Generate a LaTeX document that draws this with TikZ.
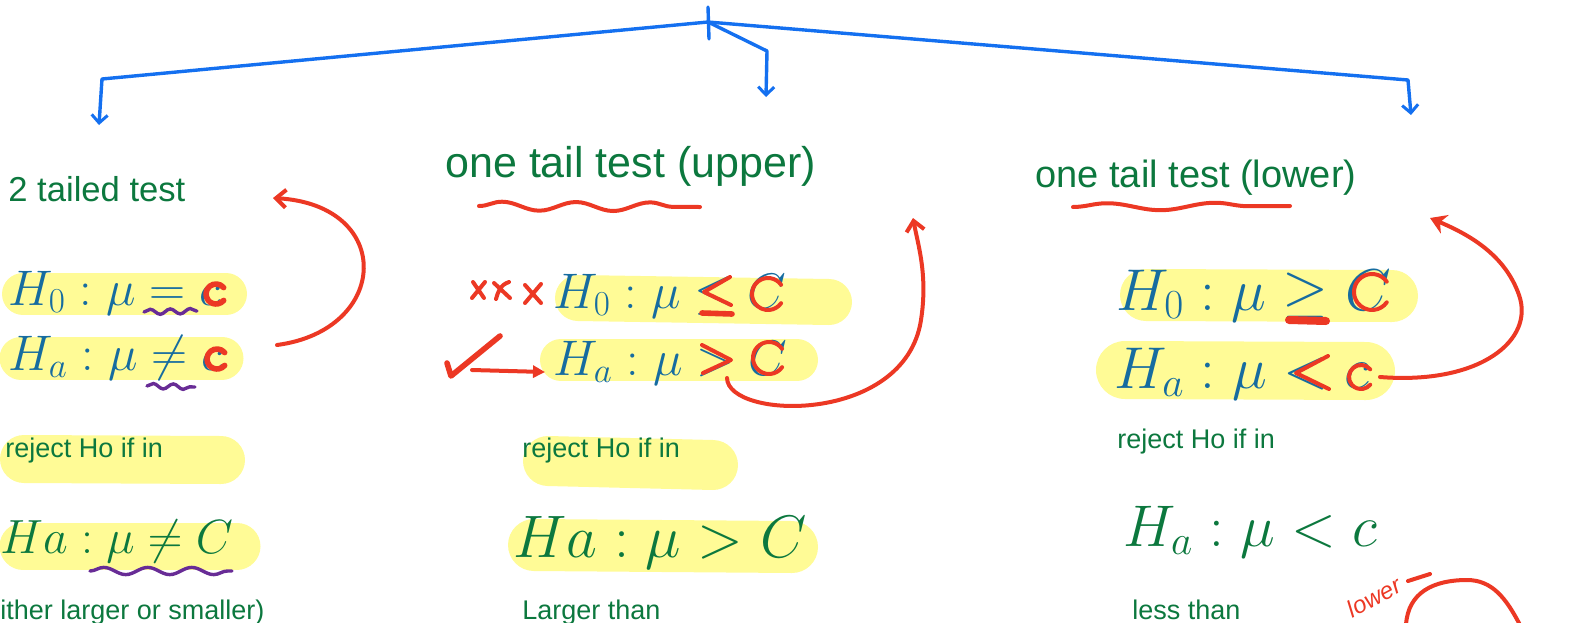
\RequirePackage{fix-cm}
\documentclass[tikz,border=0pt]{standalone}
\usepackage{amsmath,amssymb}
\usepackage{fontspec}
\setsansfont{Liberation Sans}
\usepackage{xcolor}
\usepackage{tikz}
\usetikzlibrary{arrows.meta,decorations.pathmorphing}

\definecolor{inkgreen}{RGB}{12,120,62}
\definecolor{mathblue}{RGB}{22,108,160}
\definecolor{hlyellow}{RGB}{255,251,150}
\definecolor{penred}{RGB}{236,56,36}
\definecolor{penpurple}{RGB}{104,44,150}
\definecolor{penblue}{RGB}{20,112,240}

\begin{document}
\begin{tikzpicture}[x=0.5pt,y=-0.5pt,
  tree/.style={penblue,line width=1.7pt,line cap=round,line join=round},
  treetip/.style={-{Straight Barb[length=4pt,width=8pt,line width=1.5pt]}},
  hl/.style={hlyellow,line cap=round},
  title/.style={anchor=base west,inner sep=0pt,text=inkgreen},
  note/.style={title,font=\sffamily\fontsize{13.5}{16}\selectfont},
  hyp/.style={anchor=base west,inner sep=0pt,text=mathblue},
  rulebox/.style={anchor=base west,inner sep=0pt,text=inkgreen},
  pen/.style={penred,line width=2pt,line cap=round,line join=round},
  thickpen/.style={pen,line width=2.8pt},
  squig/.style={penpurple,line width=1.7pt,line cap=round,decorate}]
\useasboundingbox (0,0) rectangle (1570,622);
\clip (0,0) rectangle (1570,622);

% highlighter strokes
\draw[hl,line width=21pt] (23,294) -- (226,294);
\draw[hl,line width=21.5pt] (21,358) -- (222,358);
\draw[hl,line width=24pt] (24,459) -- (221,460);
\draw[hl,line width=23.5pt] (23,546) -- (237,546);
\draw[hl,line width=23pt] (578,298) -- (829,302);
\draw[hl,line width=21pt] (561,360) -- (797,360);
\draw[hl,line width=25pt] (548,461) -- (713,465);
\draw[hl,line width=26pt] (534,545) -- (792,547);
\draw[hl,line width=26pt] (1146,295) -- (1392,296);
\draw[hl,line width=29pt] (1125,370) -- (1366,371);

% blue tree
\coordinate (root) at (708,22);
\coordinate (tickT) at (708,7);
\coordinate (tickB) at (709,39);
\coordinate (bendL) at (102,79);
\coordinate (tipL) at (99,125);
\coordinate (bendM) at (767,51);
\coordinate (tipM) at (766,97);
\coordinate (bendR) at (1408,80);
\coordinate (tipR) at (1411,115);
\draw[tree] (tickT) -- (tickB);
\draw[tree,treetip] (root) -- (bendL) -- (tipL);
\draw[tree,treetip] (root) -- (bendM) -- (tipM);
\draw[tree,treetip] (root) -- (bendR) -- (tipR);

% headings
\node[title,font=\sffamily\fontsize{17.3}{20}\selectfont] (two) at (8,201) {2 tailed test};
\node[title,font=\sffamily\fontsize{21.5}{25}\selectfont] (upper) at (445,177) {one tail test (upper)};
\node[title,font=\sffamily\fontsize{19}{22}\selectfont] (lower) at (1035,187) {one tail test (lower)};
\draw[pen,decoration={snake,amplitude=2.2pt,segment length=37pt},decorate] (479,206) -- (700,207);
\draw[pen,decoration={snake,amplitude=1.8pt,segment length=54pt},decorate] (1073,207) -- (1290,206);

% hypotheses
\node[hyp,font=\fontsize{25}{30}\selectfont] (h0two) at (8,305) {$H_0 : \mu = c$};
\node[hyp,font=\fontsize{25}{30}\selectfont] (hatwo) at (8,370) {$H_a : \mu \neq c$};
\node[hyp,font=\fontsize{25}{30}\selectfont] (h0up) at (553,308) {$H_0 : \mu \leq C$};
\node[hyp,font=\fontsize{25}{30}\selectfont] (haup) at (553,375) {$H_a : \mu > C$};
\node[hyp,font=\fontsize{29.5}{35}\selectfont] (h0low) at (1116,310) {$H_0 : \mu \geq C$};
\node[hyp,font=\fontsize{29.5}{35}\selectfont] (halow) at (1114,388) {$H_a : \mu < c$};

% rejection rules
\node[note] (rejtwo) at (5,457) {reject Ho if in};
\node[note] (rejup) at (522,457) {reject Ho if in};
\node[note] (rejlow) at (1117,448) {reject Ho if in};
\node[rulebox,font=\fontsize{24}{28}\selectfont] (ruletwo) at (0,553) {$Ha : \mu \neq C$};
\node[rulebox,font=\fontsize{30}{36}\selectfont] (ruleup) at (513,557) {$Ha : \mu > C$};
\node[rulebox,font=\fontsize{29.4}{35}\selectfont] (rulelow) at (1123,546) {$H_a : \mu < c$};
\node[note] (eithertwo) at (0,619) {ither larger or smaller)};
\node[note] (largerup) at (522,619) {Larger than};
\node[note] (lesslow) at (1132,619) {less than};

% purple squiggles
\draw[squig,decoration={snake,amplitude=1.3pt,segment length=10pt}] (144,312) -- (197,311);
\draw[squig,decoration={snake,amplitude=1.3pt,segment length=10pt}] (147,386) -- (195,387);
\draw[squig,decoration={snake,amplitude=1.8pt,segment length=22pt}] (90,571) -- (232,571);

% red overdrawing
\draw[thickpen] (216,294) ++(-40:10) arc[start angle=-40,end angle=-320,radius=10];
\draw[thickpen] (217,359) ++(-40:10) arc[start angle=-40,end angle=-320,radius=10];
\draw[pen] (768,294) ++(-35:16) arc[start angle=-35,end angle=-325,radius=16];
\draw[pen] (769,358) ++(-35:16) arc[start angle=-35,end angle=-325,radius=16];
\draw[pen] (1372,292) ++(-35:18) arc[start angle=-35,end angle=-325,radius=18];
\draw[pen] (1361,377) ++(-40:12) arc[start angle=-40,end angle=-320,radius=12];
\draw[pen] (730,277) -- (704,292) -- (731,305);
\draw[thickpen] (702,313) -- (732,314);
\draw[pen] (702,345) -- (731,360) -- (703,373);
\draw[thickpen,line width=4pt] (1289,320) -- (1326,321);
\draw[pen] (1328,356) -- (1296,373) -- (1329,389);

% crosses and tick
\draw[pen] (473,282) -- (484,298) (485,282) -- (472,298);
\draw[pen] (494,283) -- (510,298) (509,282) .. controls (500,285) and (498,292) .. (496,299);
\draw[pen] (525,285) -- (541,303) (541,284) -- (525,303);
\draw[thickpen] (447,363) -- (451,376) -- (500,336);
\coordinate (fromtick) at (472,370);
\coordinate (toha) at (545,372);
\draw[pen,-{Triangle[length=6pt,width=6pt]}] (fromtick) -- (toha);

% red return arrows
\coordinate (fromtwo) at (277,345);
\coordinate (totwo) at (273,198);
\draw[pen,-{Straight Barb[length=5pt,width=9pt]}] (fromtwo) .. controls (390,330) and (395,205) .. (totwo);
\coordinate (fromup) at (727,378);
\coordinate (toup) at (913,218);
\draw[pen,-{Straight Barb[length=5pt,width=9pt]}] (fromup) .. controls (728,420) and (905,425) .. (921,320) .. controls (928,275) and (918,245) .. (toup);
\coordinate (fromlow) at (1380,377);
\coordinate (tolow) at (1430,218);
\draw[pen,-{Stealth[length=8pt,width=10pt]}] (fromlow) .. controls (1480,385) and (1535,340) .. (1519,295) .. controls (1505,255) and (1470,235) .. (tolow);

% scribbled note
\node[text=penred,rotate=28,inner sep=0pt,font=\sffamily\itshape\fontsize{12}{14}\selectfont] (scrib) at (1374,597) {lower};
\draw[pen] (1408,581) -- (1430,574);
\draw[pen] (1406,625) .. controls (1408,592) and (1434,580) .. (1467,580) .. controls (1492,580) and (1506,598) .. (1520,625);
\end{tikzpicture}
\end{document}
